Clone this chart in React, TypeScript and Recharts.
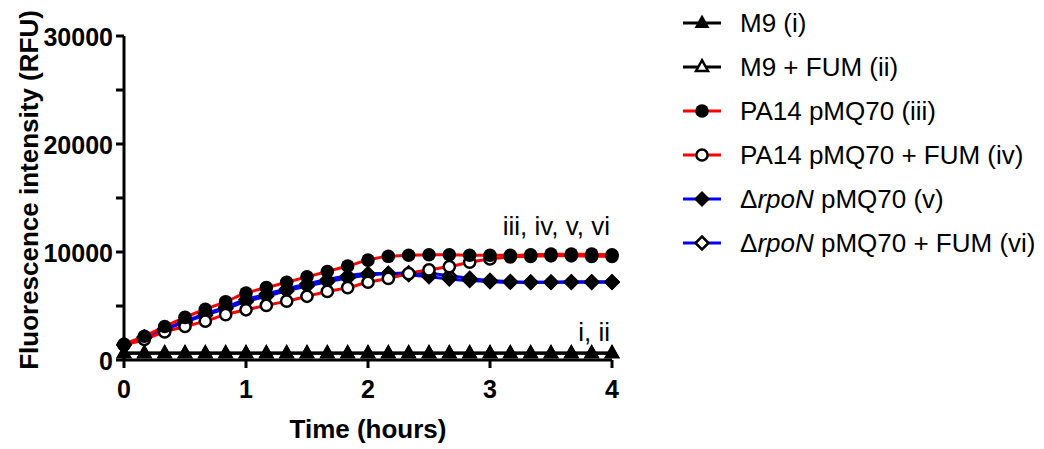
import React from "react";
import { LineChart, Line, XAxis, YAxis, ReferenceDot } from "recharts";

// sampling times, minutes
const minutes = [0, 10, 20, 30, 40, 50, 60, 70, 80, 90, 100, 110, 120, 130, 140, 150, 160, 170, 180, 190, 200, 210, 220, 230, 240];

const m9 = [650, 650, 650, 650, 650, 650, 650, 650, 650, 650, 650, 650, 650, 650, 650, 650, 650, 650, 650, 650, 650, 650, 650, 650, 650];
const m9Fum = [620, 620, 620, 620, 620, 620, 620, 620, 620, 620, 620, 620, 620, 620, 620, 620, 620, 620, 620, 620, 620, 620, 620, 620, 620];
const pa14 = [1450, 2200, 3100, 3950, 4700, 5400, 6200, 6700, 7200, 7700, 8200, 8700, 9250, 9600, 9700, 9750, 9750, 9700, 9700, 9700, 9750, 9800, 9800, 9800, 9750];
const pa14Fum = [1400, 1900, 2600, 3100, 3600, 4200, 4650, 5050, 5450, 5900, 6350, 6700, 7200, 7550, 8000, 8350, 8650, 9050, 9350, 9550, 9600, 9650, 9650, 9600, 9600];
const rpoN = [1450, 2150, 2900, 3600, 4300, 4900, 5600, 6100, 6600, 7050, 7450, 7800, 8000, 8000, 7900, 7700, 7500, 7350, 7250, 7200, 7200, 7200, 7250, 7250, 7250];
const rpoNFum = [1400, 2050, 2800, 3500, 4150, 4750, 5400, 5900, 6400, 6850, 7250, 7600, 7850, 8000, 8050, 8000, 7800, 7550, 7350, 7250, 7200, 7200, 7200, 7200, 7200];

const hourTicks = [0, 60, 120, 180, 240];
const rfuTicks = [0, 5000, 10000, 15000, 20000, 25000, 30000];

const data = minutes.map((m, i) => ({
  m,
  m9: m9[i],
  m9Fum: m9Fum[i],
  pa14: pa14[i],
  pa14Fum: pa14Fum[i],
  rpoN: rpoN[i],
  rpoNFum: rpoNFum[i],
}));

type Shape = "triangle" | "circle" | "diamond";

const series: { key: string; color: string; shape: Shape; filled: boolean; label: React.ReactNode }[] = [
  { key: "m9", color: "#000000", shape: "triangle", filled: true, label: "M9 (i)" },
  { key: "m9Fum", color: "#000000", shape: "triangle", filled: false, label: "M9 + FUM (ii)" },
  { key: "pa14", color: "#ff0000", shape: "circle", filled: true, label: "PA14 pMQ70 (iii)" },
  { key: "pa14Fum", color: "#ff0000", shape: "circle", filled: false, label: "PA14 pMQ70 + FUM (iv)" },
  { key: "rpoN", color: "#0000ff", shape: "diamond", filled: true, label: <>Δ<i>rpoN</i> pMQ70 (v)</> },
  { key: "rpoNFum", color: "#0000ff", shape: "diamond", filled: false, label: <>Δ<i>rpoN</i> pMQ70 + FUM (vi)</> },
];

// drawing order in the plot (bottom to top)
const drawOrder = ["m9Fum", "m9", "rpoNFum", "rpoN", "pa14Fum", "pa14"];

const font = "'Liberation Sans', Arial, sans-serif";

function Marker({ cx, cy, shape, filled }: { cx: number; cy: number; shape: Shape; filled: boolean }) {
  const fill = filled ? "#000" : "#fff";
  const sw = filled ? 0 : 2.5;
  if (shape === "circle") {
    return <circle cx={cx} cy={cy} r={filled ? 6.8 : 5.6} fill={fill} stroke="#000" strokeWidth={sw} />;
  }
  if (shape === "triangle") {
    const s = filled ? 1 : 0.8;
    return (
      <polygon
        points={`${cx},${cy - 8.5 * s} ${cx + 7.5 * s},${cy + 5 * s} ${cx - 7.5 * s},${cy + 5 * s}`}
        fill={fill}
        stroke="#000"
        strokeWidth={sw}
      />
    );
  }
  const d = filled ? 8 : 6.5;
  return (
    <polygon
      points={`${cx},${cy - d} ${cx + d},${cy} ${cx},${cy + d} ${cx - d},${cy}`}
      fill={fill}
      stroke="#000"
      strokeWidth={sw}
    />
  );
}

function Legend() {
  return (
    <div style={{ position: "absolute", left: 683, top: 1, fontFamily: font, fontSize: 26, color: "#000" }}>
      {series.map((s) => (
        <div key={s.key} style={{ display: "flex", alignItems: "center", height: 44 }}>
          <svg width={38} height={20} style={{ marginRight: 19 }}>
            <line x1={0} y1={10} x2={38} y2={10} stroke={s.color} strokeWidth={3} />
            <Marker cx={19} cy={10} shape={s.shape} filled={s.filled} />
          </svg>
          <span style={{ whiteSpace: "nowrap" }}>{s.label}</span>
        </div>
      ))}
    </div>
  );
}

const tickStyle = { fill: "#000", fontSize: 25, fontWeight: 700, fontFamily: font };

function XTick(p: any) {
  return (
    <text x={p.x} y={p.y + 19} textAnchor="middle" dominantBaseline="central" style={tickStyle}>
      {p.payload.value / 60}
    </text>
  );
}

function YTick(p: any) {
  const v = p.payload.value;
  if (v % 10000 !== 0) return <g />;
  return (
    <text x={p.x - 1} y={p.y + 1} textAnchor="end" dominantBaseline="central" style={tickStyle}>
      {v}
    </text>
  );
}

export default function App() {
  const ordered = drawOrder.map((k) => series.find((s) => s.key === k)!);
  return (
    <div style={{ position: "absolute", left: 0, top: 0, width: 1044, height: 449, background: "#fff" }}>
      <LineChart width={1044} height={449} data={data} margin={{ top: 36, right: 432, bottom: 0, left: 0 }}>
        <XAxis
          type="number"
          dataKey="m"
          domain={[0, 240]}
          ticks={hourTicks}
          height={89}
          axisLine={{ stroke: "#000", strokeWidth: 3 }}
          tickLine={{ stroke: "#000", strokeWidth: 3 }}
          tickSize={8}
          tickMargin={2}
          tick={<XTick />}
          interval={0}
          label={(p: any) => (
            <text
              x={p.viewBox.x + p.viewBox.width / 2}
              y={429}
              textAnchor="middle"
              dominantBaseline="central"
              style={{ ...tickStyle, fontSize: 26 }}
            >
              Time (hours)
            </text>
          )}
        />
        <YAxis
          type="number"
          domain={[0, 30000]}
          ticks={rfuTicks}
          width={124}
          axisLine={{ stroke: "#000", strokeWidth: 3 }}
          tickLine={{ stroke: "#000", strokeWidth: 3 }}
          tickSize={8}
          tickMargin={2}
          tick={<YTick />}
          interval={0}
          label={() => (
            <text
              x={29}
              y={190}
              transform="rotate(-90 29 190)"
              textAnchor="middle"
              dominantBaseline="central"
              style={{ ...tickStyle, fontSize: 26 }}
            >
              Fluorescence intensity (RFU)
            </text>
          )}
        />
        {ordered.map((s) => (
          <Line
            key={`${s.key}-line`}
            dataKey={s.key}
            type="monotone"
            stroke={s.color}
            strokeWidth={3}
            dot={false}
            activeDot={false}
            legendType="none"
            isAnimationActive={false}
          />
        ))}
        {ordered.map((s) => (
          <Line
            key={`${s.key}-dots`}
            dataKey={s.key}
            type="monotone"
            stroke="none"
            activeDot={false}
            legendType="none"
            isAnimationActive={false}
            dot={(p: any) => <Marker key={`${s.key}-${p.index}`} cx={p.cx} cy={p.cy} shape={s.shape} filled={s.filled} />}
          />
        ))}
        <ReferenceDot
          x={240}
          y={12400}
          r={0}
          fill="none"
          stroke="none"
          label={(p: any) => (
            <text x={p.viewBox.x - 2} y={p.viewBox.y} textAnchor="end" dominantBaseline="central" style={{ fontFamily: font, fontSize: 26 }}>
              iii, iv, v, vi
            </text>
          )}
        />
        <ReferenceDot
          x={240}
          y={2600}
          r={0}
          fill="none"
          stroke="none"
          label={(p: any) => (
            <text x={p.viewBox.x - 2} y={p.viewBox.y} textAnchor="end" dominantBaseline="central" style={{ fontFamily: font, fontSize: 26 }}>
              i, ii
            </text>
          )}
        />
      </LineChart>
      <Legend />
    </div>
  );
}
